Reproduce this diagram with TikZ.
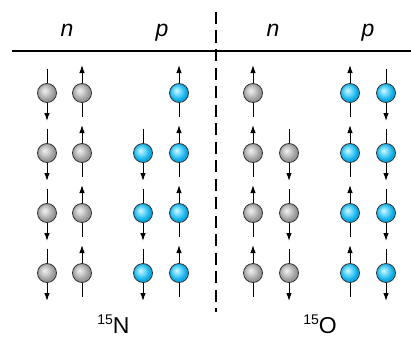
\documentclass[tikz,border=0pt]{standalone}
\usepackage{fontspec}
\setmainfont{Liberation Sans}
\usetikzlibrary{arrows.meta}
\definecolor{plight}{RGB}{215,248,255}
\definecolor{pmid}{RGB}{110,218,250}
\definecolor{pedge}{RGB}{10,170,230}
\pgfdeclareradialshading{nshade}{\pgfpoint{-7bp}{7bp}}{color(0bp)=(black!5);
  color(10bp)=(black!20); color(22bp)=(black!40); color(50bp)=(black!50)}
\pgfdeclareradialshading{pshade}{\pgfpoint{-7bp}{7bp}}{color(0bp)=(plight);
  color(10bp)=(pmid); color(22bp)=(pedge); color(50bp)=(pedge!85!black)}
\tikzset{
  nball/.style={circle,draw=black!80,line width=.8pt,minimum size=19pt,inner sep=0pt,
    shading=nshade},
  pball/.style={nball,shading=pshade},
  spin/.style={line width=1pt,-{Latex[length=8pt,width=5.5pt]}},
}
\newcommand\nucl[2]{\raisebox{9pt}{\fontsize{14}{14}\selectfont #1}#2}
\begin{document}
\begin{tikzpicture}[x=1pt,y=-1pt,font=\fontsize{23}{27}\selectfont]
	\useasboundingbox(0,0)rectangle(411,337);
	% table frame
	\draw[line width=2pt](12,51)--(411,51);
	\draw[line width=1.2pt,dash pattern=on 12pt off 6.5pt](216,12)--(216,312);
	\node[anchor=base](hn1)at(67,37){\textit{n}};
	\node[anchor=base](hp1)at(162,37){\textit{p}};
	\node[anchor=base](hn2)at(273,37){\textit{n}};
	\node[anchor=base](hp2)at(368,37){\textit{p}};
	% neutrons: x/y/s, s=1 up, s=-1 down
	\foreach \x/\y/\s [count=\i] in {47/93/-1,47/153/-1,47/213/-1,47/273/-1,
		82/93/1,82/153/1,82/213/1,82/273/1,
		253/93/1,253/153/1,253/213/1,253/273/1,
		289/153/-1,289/213/-1,289/273/-1}{
		\draw[spin](\x,{\y+24*\s})--(\x,{\y-28*\s});
		\node[nball](n\i)at(\x,\y){};
	}
	% protons
	\foreach \x/\y/\s [count=\i] in {143/153/-1,143/213/-1,143/273/-1,
		179/93/1,179/153/1,179/213/1,179/273/1,
		350/93/1,350/153/1,350/213/1,350/273/1,
		386/93/-1,386/153/-1,386/213/-1,386/273/-1}{
		\draw[spin](\x,{\y+24*\s})--(\x,{\y-28*\s});
		\node[pball](p\i)at(\x,\y){};
	}
	\node[anchor=base,inner sep=0pt](N15)at(113.5,333){\nucl{15}{N}};
	\node[anchor=base,inner sep=0pt](O15)at(320,333){\nucl{15}{O}};
\end{tikzpicture}
\end{document}
